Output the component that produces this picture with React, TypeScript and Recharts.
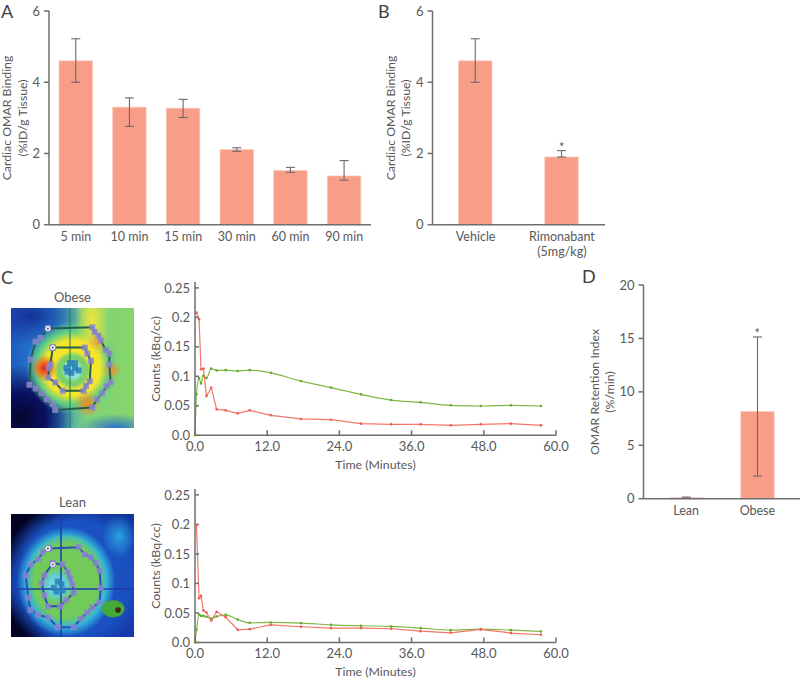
import React from 'react';
import {
    BarChart,
    Bar,
    ErrorBar,
    LineChart,
    Line,
    ScatterChart,
    Scatter,
    XAxis,
    YAxis,
    ReferenceDot
} from 'recharts';

const FONT = 'Lato, "Noto Sans", sans-serif';
const TEXT = '#58595b';
const AXIS = '#6d6e71';
const BAR = '#f89d88';
const WHISKER = '#6b6b6b';
const RED = '#f2766a';
const GREEN = '#7fb842';

// Panel A
const timeCats = ['5 min', '10 min', '15 min', '30 min', '60 min', '90 min'];
const timeMeans = [4.6, 3.3, 3.27, 2.11, 1.52, 1.37];
const timeLows = [4.0, 2.76, 3.01, 2.06, 1.47, 1.25];
const timeHighs = [5.22, 3.56, 3.52, 2.16, 1.61, 1.8];

// Panel B
const drugCats = ['Vehicle', 'Rimonabant (5mg/kg)'];
const drugMeans = [4.6, 1.9];
const drugLows = [4.0, 1.9];
const drugHighs = [5.22, 2.08];

// Panel D
const groupCats = ['Lean', 'Obese'];
const groupMeans = [0.1, 8.16];
const groupLows = [0.05, 2.12];
const groupHighs = [0.15, 15.14];

// Panel C time activity curves
const minutes = [0, 0.25, 0.67, 1, 1.4, 1.9, 2.7, 3.6, 5.1, 7.1, 9.1, 12.6, 17.6, 22.6, 27.6, 32.6, 37.5, 42.5, 47.5, 52.5, 57.5];
const obeseRed = [null, 0.208, 0.197, 0.112, 0.113, 0.0666, 0.0807, 0.044, 0.0423, 0.0372, 0.0423, 0.0339, 0.0277, 0.0265, 0.0198, 0.0186, 0.0186, 0.0169, 0.0186, 0.0198, 0.0169];
const obeseGreen = [0, 0.07, 0.097, 0.088, 0.101, 0.097, 0.113, 0.11, 0.1105, 0.109, 0.1105, 0.106, 0.092, 0.081, 0.0694, 0.0598, 0.0559, 0.0508, 0.0497, 0.0508, 0.0497];
const leanRed = [null, 0.199, 0.0749, 0.0788, 0.054, 0.0507, 0.0372, 0.0518, 0.0428, 0.0214, 0.0225, 0.0298, 0.0265, 0.0242, 0.0242, 0.0231, 0.0191, 0.0163, 0.022, 0.0158, 0.013];
const leanGreen = [0, 0.0214, 0.0473, 0.045, 0.045, 0.0434, 0.0405, 0.044, 0.0467, 0.0389, 0.0332, 0.0338, 0.0327, 0.0298, 0.0282, 0.027, 0.0242, 0.0208, 0.0225, 0.0208, 0.0186];
const countTicks = [0, 0.05, 0.1, 0.15, 0.2, 0.25];
const minuteTicks = [0, 12, 24, 36, 48, 60];

// Region of interest outlines on the two PET images, in percent of the image
const obeseOuterRoi = [[30, 17], [66, 16], [68, 20], [71, 23], [73, 27], [77, 35], [80, 38], [80, 47], [81, 62], [78, 65], [74, 71], [70, 76], [66, 83], [36, 85], [34, 80], [29, 76], [25, 71], [20, 67], [15, 64], [16, 43], [20, 28], [24, 25], [30, 17]];
const obeseInnerRoi = [[34, 33], [60, 33], [62, 38], [65, 44], [64, 61], [61, 65], [59, 69], [42, 69], [36, 62], [30, 58], [31, 50], [32, 47], [34, 33]];
const leanOuterRoi = [[31, 28], [55, 27], [60, 33], [65, 35], [69, 40], [72, 46], [73, 60], [72, 72], [66, 76], [62, 80], [57, 85], [51, 92], [38, 92], [30, 84], [22, 82], [16, 78], [14, 68], [12, 50], [16, 41], [22, 37], [26, 31], [31, 28]];
const leanInnerRoi = [[34, 40], [42, 41], [46, 47], [48, 52], [50, 57], [51, 64], [45, 70], [40, 75], [30, 75], [27, 66], [25, 56], [27, 50], [34, 40]];
const obeseCore = [[48, 46], [52, 46], [45, 50], [52, 50], [55, 52], [49, 54], [46, 53]];
const leanCore = [[38, 55], [41, 57], [35, 60], [37, 63], [42, 62]];
const obeseMarkers = [[30, 17], [34, 33]];
const leanMarkers = [[30, 28], [34, 41]];

const toRows = (cats: string[], means: number[], lows: number[], highs: number[]) =>
    cats.map((name, i) => ({ name, mean: means[i], err: [means[i] - lows[i], highs[i] - means[i]] }));
const toCurve = (red: (number | null)[], green: number[]) =>
    minutes.map((t, i) => ({ t, red: red[i], green: green[i] }));
const toPoints = (pts: number[][]) => pts.map(([x, y]) => ({ x, y }));

const tickStyle = { fill: TEXT, fontSize: 13, fontFamily: FONT };

// px/py instead of x/y, the axis overwrites x and y on its label element
const AxisTitle = ({ px, py, lines, rotate }: any) => (
    <text
        transform={rotate ? `rotate(-90 ${px} ${py})` : undefined}
        x={px}
        y={py}
        textAnchor="middle"
        fill={TEXT}
        fontSize={12.3}
        fontFamily={FONT}
    >
        {lines.map((line: string, i: number) => (
            <tspan key={line} x={px} dy={i === 0 ? 0 : 15.5}>{line}</tspan>
        ))}
    </text>
);

const WrappedTick = ({ x, y, payload }: any) => {
    const parts = String(payload.value).split(' (');
    return (
        <text x={x} y={y + 8} textAnchor="middle" fill={TEXT} fontSize={12.5} fontFamily={FONT}>
            <tspan x={x}>{parts[0]}</tspan>
            {parts[1] && <tspan x={x} dy={15}>({parts[1]}</tspan>}
        </text>
    );
};

const BarPanel = ({ left, top, width, height, rows, domain, ticks, axisWidth, padding, title, barSize, star }: any) => (
    <div style={{ position: 'absolute', left, top }}>
        <BarChart width={width} height={height} data={rows} margin={{ top: 11, right: 0, bottom: 0, left: 0 }}>
            <XAxis
                dataKey="name"
                height={height - 11 - 213.7}
                tick={<WrappedTick />}
                tickLine={false}
                stroke={AXIS}
                strokeWidth={1.5}
                padding={padding}
                interval={0}
            />
            <YAxis
                width={axisWidth}
                domain={domain}
                ticks={ticks}
                tick={tickStyle}
                tickSize={5}
                tickMargin={4}
                stroke={AXIS}
                strokeWidth={1.5}
                label={<AxisTitle {...title} />}
            />
            <Bar dataKey="mean" fill={BAR} stroke="#fbcabd" strokeWidth={0.8} barSize={barSize} isAnimationActive={false}>
                <ErrorBar dataKey="err" width={4.5} stroke={WHISKER} strokeWidth={1.1} isAnimationActive={false} />
            </Bar>
            {star && (
                <ReferenceDot
                    x={star.x}
                    y={star.y}
                    r={0}
                    stroke="none"
                    label={{ value: '*', fill: TEXT, fontSize: 13, fontFamily: FONT }}
                />
            )}
        </BarChart>
    </div>
);

const CurvePanel = ({ left, top, data, plotHeight }: any) => (
    <div style={{ position: 'absolute', left, top }}>
        <LineChart width={436} height={210} data={data} margin={{ top: 12, right: 20, bottom: 10, left: 0 }}>
            <XAxis
                dataKey="t"
                type="number"
                domain={[0, 60]}
                ticks={minuteTicks}
                height={188 - plotHeight}
                tick={tickStyle}
                tickFormatter={(v: number) => v.toFixed(1)}
                tickSize={-5}
                tickMargin={11}
                stroke={AXIS}
                strokeWidth={1.5}
                label={<AxisTitle px={235.5} py={199} lines={['Time (Minutes)']} />}
            />
            <YAxis
                width={55}
                domain={[0, 0.26]}
                ticks={countTicks}
                tick={tickStyle}
                tickFormatter={(v: number) => (v === 0 ? '0.0' : String(v))}
                tickSize={-4}
                tickMargin={9}
                stroke={AXIS}
                strokeWidth={1.5}
                label={<AxisTitle px={20} py={89} rotate lines={['Counts (kBq/cc)']} />}
            />
            <Line dataKey="green" type="monotone" stroke={GREEN} strokeWidth={1.2} dot={{ r: 1.3, fill: '#6aa82f', stroke: 'none' }} isAnimationActive={false} />
            <Line dataKey="red" type="linear" stroke={RED} strokeWidth={1.2} dot={{ r: 1.3, fill: '#ee5c4e', stroke: 'none' }} isAnimationActive={false} />
        </LineChart>
    </div>
);

const RoiSquare = ({ cx, cy, fill }: any) => (
    <rect x={cx - 3} y={cy - 3} width={6} height={6} fill={fill} fillOpacity={0.85} />
);
const RoiMarker = ({ cx, cy }: any) => (
    <g>
        <circle cx={cx} cy={cy} r={3} fill="#f4f4f4" stroke="#7f7fc8" />
        <circle cx={cx} cy={cy} r={0.9} fill="#333" />
    </g>
);

const PetImage = ({ left, top, height, background, outer, inner, core, markers, lineColor, cross }: any) => (
    <div style={{ position: 'absolute', left, top, width: 123, height, background, overflow: 'hidden' }}>
        <div style={{ position: 'absolute', left: cross[0] + '%', top: 0, bottom: 0, width: 2, background: cross[2] }} />
        {cross[1] !== null && (
            <div style={{ position: 'absolute', top: cross[1] + '%', left: 0, right: 0, height: 2, background: cross[2] }} />
        )}
        <div style={{ position: 'absolute', left: 0, top: 0 }}>
            <ScatterChart width={123} height={height} margin={{ top: 0, right: 0, bottom: 0, left: 0 }}>
                <XAxis type="number" dataKey="x" domain={[0, 100]} hide />
                <YAxis type="number" dataKey="y" domain={[0, 100]} reversed hide />
                <Scatter data={toPoints(outer)} line={{ stroke: lineColor, strokeWidth: 2 }} shape={<RoiSquare fill="#8a86cf" />} isAnimationActive={false} />
                <Scatter data={toPoints(inner)} line={{ stroke: lineColor, strokeWidth: 2 }} shape={<RoiSquare fill="#8a86cf" />} isAnimationActive={false} />
                <Scatter data={toPoints(core)} shape={<RoiSquare fill="#2a7fb8" />} isAnimationActive={false} />
                <Scatter data={toPoints(markers)} shape={<RoiMarker />} isAnimationActive={false} />
            </ScatterChart>
        </div>
    </div>
);

const obeseHeat = [
    'radial-gradient(circle at 50% 52%, #8fe0d8 0, #8fe0d8 9%, rgba(143,224,216,0) 13%)',
    'radial-gradient(circle at 50% 52%, #6fcf6a 0, #7fd06a 17%, rgba(127,208,106,0) 22%)',
    'radial-gradient(circle at 27% 50%, #dd2a20 0, #f06a20 5%, rgba(245,140,30,0) 12%)',
    'radial-gradient(circle at 62% 80%, #f28a20 0, rgba(245,160,30,0) 11%)',
    'radial-gradient(circle at 70% 28%, #f5a030 0, rgba(245,170,30,0) 8%)',
    'radial-gradient(circle at 82% 52%, #f09030 0, rgba(245,170,30,0) 8%)',
    'radial-gradient(circle at 50% 50%, #f6e62a 0, #f6e62a 32%, rgba(246,230,42,0) 42%)',
    'radial-gradient(ellipse 14% 45% at 66% 12%, #f0e63a 0, rgba(238,230,58,0) 100%)',
    'radial-gradient(circle at 50% 50%, #62cf80 0, #62cf80 42%, rgba(60,200,220,0) 54%)',
    'radial-gradient(circle at 8% 92%, #05052e 0, #0a1060 16%, rgba(20,60,170,0) 34%)',
    'radial-gradient(ellipse 42% 26% at 16% 6%, #16329a 0, rgba(22,50,154,0) 100%)',
    'radial-gradient(ellipse 30% 12% at 85% 100%, #2a6ecf 0, rgba(42,110,207,0) 100%)',
    'linear-gradient(90deg, #1f5cc0 0%, #2a90d8 35%, #7ed27a 62%, #86d66a 100%)'
].join(', ');

const leanHeat = [
    'radial-gradient(circle at 87% 78%, #3f2a10 0, #3f2a10 1.6%, rgba(63,42,16,0) 2.4%)',
    'radial-gradient(ellipse 10% 7.5% at 83% 77%, #45a83a 0, #45a83a 85%, rgba(40,120,200,0) 100%)',
    'radial-gradient(circle at 37% 58%, #7fe0d8 0, #5fcfd8 9%, rgba(95,207,216,0) 16%)',
    'radial-gradient(ellipse 33% 38% at 45% 54%, #72ca5a 0, #72ca5a 80%, rgba(114,202,90,0) 100%)',
    'radial-gradient(ellipse 40% 45% at 45% 55%, #32b4dc 0, #32b4dc 82%, rgba(50,180,220,0) 100%)',
    'radial-gradient(ellipse 14% 18% at 88% 18%, #2aa0e0 0, rgba(42,160,224,0) 100%)',
    'radial-gradient(ellipse 60% 62% at 52% 52%, #1a50c0 0, #1a50c0 75%, rgba(26,80,192,0) 100%)',
    'radial-gradient(circle at 0% 0%, #020220 0, #03052e 22%, rgba(10,20,90,0) 42%)',
    'radial-gradient(circle at 0% 100%, #020220 0, #03052e 14%, rgba(10,20,90,0) 30%)',
    'linear-gradient(135deg, #0a1a70 0%, #123aa8 60%, #1638a8 100%)'
].join(', ');

const Letter = ({ left, top, children }: any) => (
    <div style={{ position: 'absolute', left, top, fontFamily: FONT, fontSize: 18, lineHeight: '20px', color: '#414042' }}>
        {children}
    </div>
);

const Caption = ({ top, children }: any) => (
    <div style={{ position: 'absolute', left: 11, width: 123, top, textAlign: 'center', fontFamily: FONT, fontSize: 13, lineHeight: '16px', color: TEXT }}>
        {children}
    </div>
);

const bindingTitle = ['Cardiac OMAR Binding', '(%ID/g Tissue)'];

export default function App() {
    return (
        <div style={{ position: 'absolute', left: 0, top: 0, width: 800, height: 678, background: '#fff', overflow: 'hidden' }}>
            <Letter left={1} top={1}>A</Letter>
            <Letter left={378} top={1}>B</Letter>
            <Letter left={1} top={267}>C</Letter>
            <Letter left={582} top={266}>D</Letter>

            <BarPanel
                left={0}
                top={0}
                width={371}
                height={260}
                rows={toRows(timeCats, timeMeans, timeLows, timeHighs)}
                domain={[0, 6]}
                ticks={[0, 2, 4, 6]}
                axisWidth={49}
                barSize={33.5}
                title={{ px: 11, py: 118, rotate: true, lines: bindingTitle }}
            />
            <BarPanel
                left={370}
                top={0}
                width={235}
                height={265}
                rows={toRows(drugCats, drugMeans, drugLows, drugHighs)}
                domain={[0, 6]}
                ticks={[0, 2, 4, 6]}
                axisWidth={62.5}
                barSize={33.5}
                title={{ px: 24.5, py: 118, rotate: true, lines: bindingTitle }}
                star={{ x: 'Rimonabant (5mg/kg)', y: 2.17 }}
            />
            <BarPanel
                left={570}
                top={274}
                width={230}
                height={260}
                rows={toRows(groupCats, groupMeans, groupLows, groupHighs)}
                domain={[0, 20]}
                ticks={[0, 5, 10, 15, 20]}
                axisWidth={73.5}
                barSize={33.5}
                padding={{ left: 7, right: 7 }}
                title={{ px: 28.5, py: 118, rotate: true, lines: ['OMAR Retention Index', '(%/min)'] }}
                star={{ x: 'Obese', y: 15.5 }}
            />

            <Caption top={289}>Obese</Caption>
            <Caption top={494}>Lean</Caption>
            <PetImage
                left={11}
                top={308}
                height={120}
                background={obeseHeat}
                outer={obeseOuterRoi}
                inner={obeseInnerRoi}
                core={obeseCore}
                markers={obeseMarkers}
                lineColor="#245f50"
                cross={[47, null, 'rgba(40,130,90,0.55)']}
            />
            <PetImage
                left={11}
                top={514}
                height={123}
                background={leanHeat}
                outer={leanOuterRoi}
                inner={leanInnerRoi}
                core={leanCore}
                markers={leanMarkers}
                lineColor="#2a50b8"
                cross={[40, 60, 'rgba(30,60,170,0.75)']}
            />

            <CurvePanel left={140} top={270} data={toCurve(obeseRed, obeseGreen)} plotHeight={153.3} />
            <CurvePanel left={140} top={477} data={toCurve(leanRed, leanGreen)} plotHeight={153.4} />
        </div>
    );
}
